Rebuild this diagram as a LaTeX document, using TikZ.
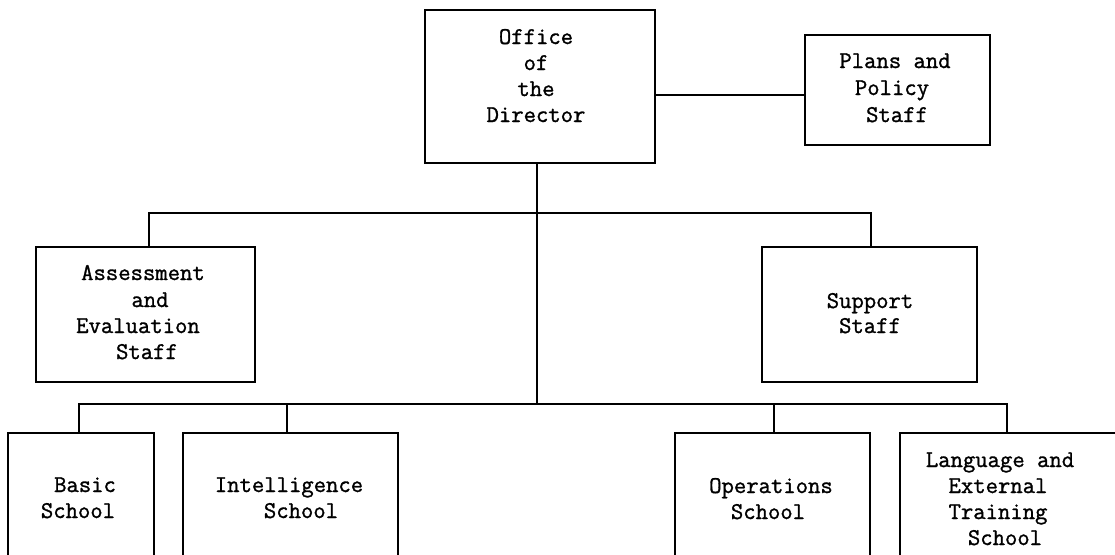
\documentclass[tikz,border=0pt]{standalone}
\usepackage{fontspec}
\newfontfamily\typew{Latin Modern Mono}[FakeBold=1.2]
\begin{document}
\begin{tikzpicture}[x=1pt,y=-1pt,
  box/.style={draw, line width=1.8pt, inner sep=0pt},
  conn/.style={line width=1.4pt},
  txt/.style={anchor=base, inner sep=0pt, font=\fontsize{24}{26}\selectfont\typew}]
\useasboundingbox (0,0) rectangle (1115,554);
\clip (0,0) rectangle (1115,554);
% boxes
\node[box, minimum width=230pt, minimum height=153pt] (dir) at (540,86.5) {};
\node[box, minimum width=185pt, minimum height=110pt] (plans) at (897.5,90) {};
\node[box, minimum width=219pt, minimum height=135pt] (ass) at (145.5,314.5) {};
\node[box, minimum width=215pt, minimum height=135pt] (sup) at (869.5,314.5) {};
\node[box, minimum width=146pt, minimum height=142pt] (basic) at (81,504) {};
\node[box, minimum width=215pt, minimum height=142pt] (intel) at (290.5,504) {};
\node[box, minimum width=195pt, minimum height=142pt] (ops) at (772.5,504) {};
\node[box, minimum width=225pt, minimum height=142pt] (lang) at (1012.5,504) {};
% texts
\node[txt] (t1) at (536,44) {Office};
\node[txt] (t2) at (536,70) {of};
\node[txt] (t3) at (536,96) {the};
\node[txt] (t4) at (536,122) {Director};
\node[txt] (t5) at (895,68) {Plans and};
\node[txt] (t6) at (892,95) {Policy};
\node[txt] (t7) at (897,122) {Staff};
\node[txt] (t8) at (143,280) {Assessment};
\node[txt] (t9) at (150,307) {and};
\node[txt] (t10) at (138,333) {Evaluation};
\node[txt] (t11) at (147,359) {Staff};
\node[txt] (t12) at (870,308) {Support};
\node[txt] (t13) at (870,333) {Staff};
\node[txt] (t14) at (85,492) {Basic};
\node[txt] (t15) at (78,518) {School};
\node[txt] (t16) at (289,492) {Intelligence};
\node[txt] (t17) at (301,518) {School};
\node[txt] (t18) at (771,493) {Operations};
\node[txt] (t19) at (768,519) {School};
\node[txt] (t20) at (1000,467) {Language and};
\node[txt] (t21) at (998,493) {External};
\node[txt] (t22) at (998,519) {Training};
\node[txt] (t23) at (1005,545) {School};
% connectors
\coordinate (bus1) at (537,213);
\coordinate (bus2) at (537,404);
\draw[conn] ([yshift=-5pt]plans.west) -- ([yshift=-5pt]plans.west -| dir.east);
\draw[conn] (dir.south -| bus1) -- (bus2);
\draw[conn] ([xshift=3.5pt]ass.north) |- (bus1) -| ([xshift=1.5pt]sup.north);
\draw[conn] ([xshift=-2pt]basic.north) |- (bus2) -| ([xshift=1.5pt]ops.north);
\draw[conn] ([xshift=-3.5pt]intel.north) -- ([xshift=-3.5pt]intel.north |- bus2);
\draw[conn] (bus2) -| ([xshift=-5.5pt]lang.north);
\end{tikzpicture}
\end{document}
